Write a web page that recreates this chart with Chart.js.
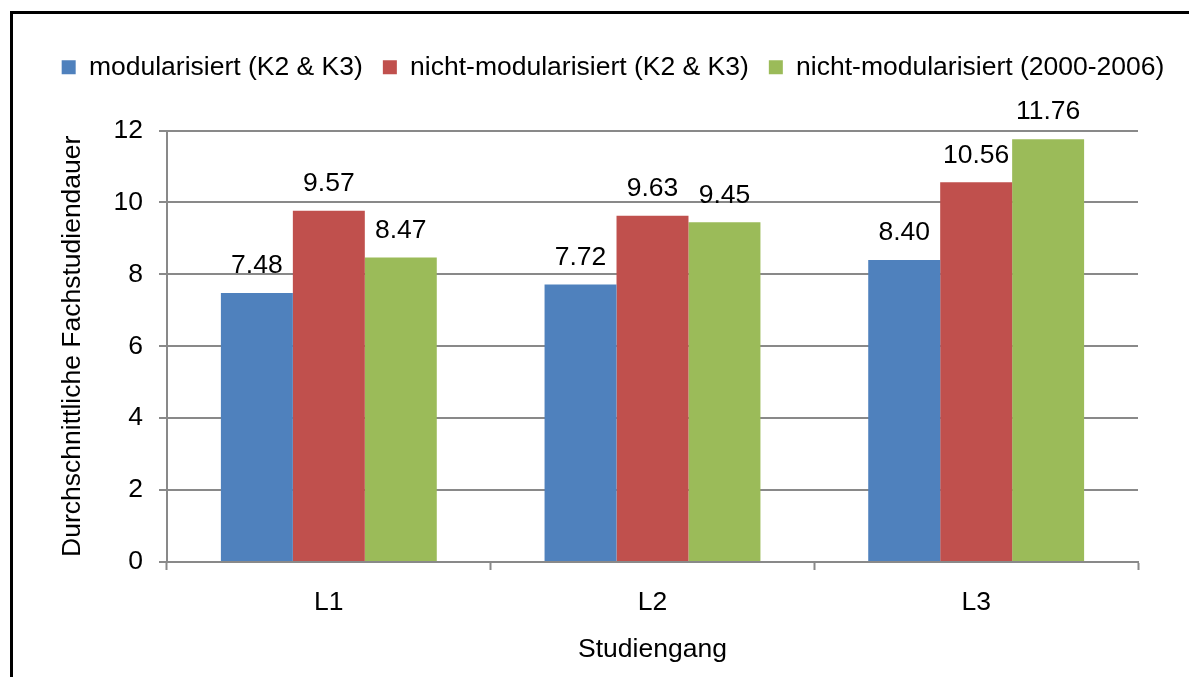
<!DOCTYPE html>
<html>
<head>
<meta charset="utf-8">
<script src="https://cdn.jsdelivr.net/npm/chart.js@4.4.0/dist/chart.umd.min.js"></script>
<style>
  html, body { margin: 0; padding: 0; background: #fff; overflow: hidden; }
  #frame {
    position: absolute; left: 10px; top: 11px;
    width: 1400px; height: 900px;
    border: 3px solid #000; box-sizing: border-box;
  }
  #wrap { position: absolute; left: 0; top: 0; width: 1189px; height: 677px; }
</style>
</head>
<body>
<div id="frame"></div>
<div id="wrap"><canvas id="chart" width="1189" height="677"></canvas></div>
<script>
// data
const categories = ['L1', 'L2', 'L3'];
const seriesNames = [
  'modularisiert (K2 & K3)',
  'nicht-modularisiert (K2 & K3)',
  'nicht-modularisiert (2000-2006)'
];
const modularisiert = [7.48, 7.72, 8.40];
const nichtModK2K3 = [9.77, 9.63, 10.56];   // L1 bar is drawn higher than its label says
const nichtMod2000 = [8.47, 9.45, 11.76];
// the printed value labels, as they stand in the picture
const labelsModularisiert = ['7.48', '7.72', '8.40'];
const labelsNichtModK2K3 = ['9.57', '9.63', '10.56'];
const labelsNichtMod2000 = ['8.47', '9.45', '11.76'];
const yTicks = [0, 2, 4, 6, 8, 10, 12];

const colors = ['#4F81BD', '#C0504D', '#9BBB59'];
const gray = '#898989';
const FONT = '"Liberation Sans", Arial, sans-serif';
const SIZE = 26.5;

Chart.defaults.font.family = FONT;
Chart.defaults.font.size = SIZE;
Chart.defaults.color = '#000';

// value labels above each bar
const valueLabels = {
  id: 'valueLabels',
  afterDatasetsDraw(chart) {
    const ctx = chart.ctx;
    const texts = [labelsModularisiert, labelsNichtModK2K3, labelsNichtMod2000];
    ctx.save();
    ctx.font = SIZE + 'px ' + FONT;
    ctx.fillStyle = '#000';
    ctx.textAlign = 'center';
    ctx.textBaseline = 'middle';
    chart.data.datasets.forEach((ds, i) => {
      chart.getDatasetMeta(i).data.forEach((bar, j) => {
        ctx.fillText(texts[i][j], bar.x, bar.y - 27);
      });
    });
    ctx.restore();
  }
};

// extra space between legend and plot area
const legendGap = {
  id: 'legendGap',
  beforeLayout(chart) {
    const lg = chart.legend;
    if (!lg || lg._gapPatched) return;
    const fit = lg.fit;
    lg.fit = function () {
      fit.call(this);
      this.height += 40;
    };
    lg._gapPatched = true;
  }
};

new Chart(document.getElementById('chart'), {
  type: 'bar',
  data: {
    labels: categories,
    datasets: [
      { label: seriesNames[0], data: modularisiert, backgroundColor: colors[0] },
      { label: seriesNames[1], data: nichtModK2K3, backgroundColor: colors[1] },
      { label: seriesNames[2], data: nichtMod2000, backgroundColor: colors[2] }
    ]
  },
  options: {
    responsive: false,
    devicePixelRatio: 1,
    animation: false,
    categoryPercentage: 0.667,
    barPercentage: 1,
    layout: { padding: { left: 41, right: 4, top: 34, bottom: 0 } },
    plugins: {
      tooltip: { enabled: false },
      legend: {
        position: 'top',
        labels: {
          boxWidth: 14,
          boxHeight: 14,
          padding: 20,
          color: '#000',
          font: { size: SIZE }
        }
      }
    },
    scales: {
      x: {
        grid: {
          drawOnChartArea: false,
          drawTicks: true,
          tickLength: 8,
          tickColor: gray,
          tickWidth: 2,
          offset: true
        },
        border: { display: true, color: gray, width: 2 },
        ticks: { padding: 17, color: '#000' },
        title: {
          display: true,
          text: 'Studiengang',
          color: '#000',
          padding: { top: 0, bottom: 11 }
        },
        afterFit(scale) {
          scale.height = 115;
          scale.paddingRight = 51;
        }
      },
      y: {
        min: 0,
        max: 12,
        afterBuildTicks(scale) {
          scale.ticks = yTicks.map(v => ({ value: v }));
        },
        grid: {
          color: gray,
          lineWidth: 2,
          drawTicks: true,
          tickLength: 8,
          tickColor: gray
        },
        border: { display: true, color: gray, width: 2 },
        ticks: { padding: 16, color: '#000' },
        title: {
          display: true,
          text: 'Durchschnittliche Fachstudiendauer',
          color: '#000',
          padding: { top: 16, bottom: 0 }
        },
        afterFit(scale) {
          scale.width = 126;
        }
      }
    }
  },
  plugins: [valueLabels, legendGap]
});
</script>
</body>
</html>
